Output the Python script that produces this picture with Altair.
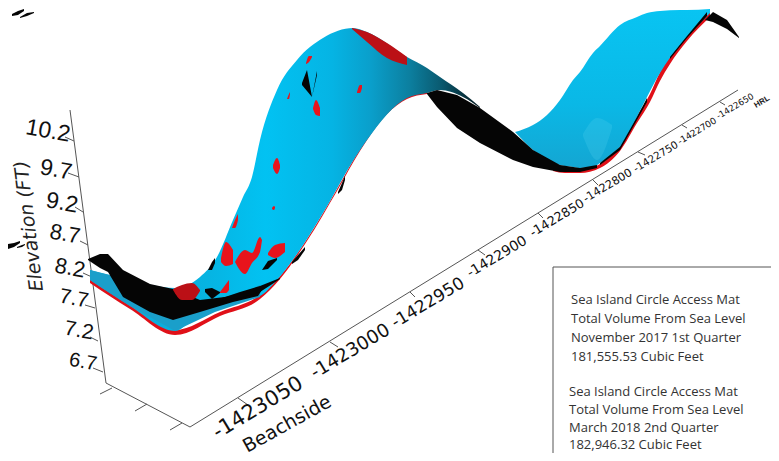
import altair as alt
import pandas as pd

# Each shape: name, xs, upper edge, lower edge (image pixels)
red_edge = [
    ("re1", [90, 130, 175, 220, 260, 280, 307, 337, 360, 387, 407, 427],
            [279, 305, 330, 312, 295, 276, 239, 189, 149, 112, 97, 92],
            [283, 309, 335, 316, 299, 279, 241, 191, 151, 114, 99, 94]),
    ("re2", [553, 565, 580, 600, 620, 637, 650, 660, 670, 687, 710],
            [169, 170, 170, 164, 146, 116, 94, 72, 56, 35, 12],
            [171, 173, 173, 168, 151, 123, 102, 81, 64, 41, 17]),
]
main_x = [90, 130, 175, 200, 217, 233, 243, 252, 260, 277, 297, 323, 353, 367, 407, 427, 440, 463, 480]
main_top = [270, 280, 288, 277, 257, 220, 197, 177, 140, 90, 60, 38, 28, 32, 57, 68, 77, 93, 107]
main_bot = [280, 306, 331, 312, 304, 300, 299, 298, 296, 280, 254, 213, 161, 140, 98, 93, 90, 97, 108]

left_x = [90, 130, 175, 215, 260]
left_top = [270, 280, 315, 305, 285]
left_bot = [280, 306, 331, 312, 297]

right_x = [515, 533, 547, 560, 573, 580, 593, 600, 620, 637, 647, 660, 680, 687, 710]
right_top = [132, 125, 115, 100, 80, 72, 53, 46, 25, 17, 13, 11, 10, 10, 9]
right_bot = [132, 150, 160, 165, 167, 168, 167, 163, 147, 117, 97, 73, 45, 37, 13]
patch = [("p1", [583, 597, 612], [134, 118, 125], [136, 160, 128])]

band_shapes = [
    ("bl_left", [88, 100, 108, 123, 150, 173, 200, 233, 258, 262],
                [259, 254, 254, 270, 284, 289, 300, 296, 288, 288],
                [260, 268, 272, 297, 312, 320, 312, 302, 296, 290]),
    ("bl_band", [427, 437, 457, 480, 513, 533, 560, 580, 597],
                [93, 90, 95, 108, 132, 150, 165, 168, 165],
                [94, 107, 128, 143, 160, 167, 172, 172, 168]),
]
black_shapes = [
    ("bl_tip", [705, 713, 727, 739], [20, 12, 20, 37], [20, 22, 29, 38]),
    ("b1", [302, 307, 317, 312], [83, 70, 71, 97], [85, 91, 75, 97]),
    ("b2", [262, 268, 277], [270, 261, 258], [270, 269, 260]),
    ("b3", [208, 212, 215], [270, 262, 258], [270, 270, 263]),
    ("b4", [205, 212, 220], [289, 288, 292], [292, 299, 293]),
    ("b5", [338, 342, 345], [192, 183, 176], [194, 190, 180]),
    ("b6", [292, 298, 305], [262, 255, 247], [264, 260, 250]),
    ("b7", [222, 240, 260, 280], [298, 292, 286, 278], [300, 298, 292, 279]),
    ("b8", [600, 620, 637, 647], [163, 147, 117, 98], [165, 150, 120, 102]),
    ("b9", [670, 687, 707], [57, 36, 12], [59, 38, 16]),
    ("s1", [12, 18, 24], [14, 11, 9], [16, 15, 11]),
    ("s2", [20, 27, 34], [17, 13, 12], [18, 16, 13]),
    ("s3", [8, 14, 20], [244, 243, 241], [249, 247, 243]),
    ("s4", [17, 22, 25], [247, 245, 244], [248, 247, 245]),
]
red_shapes = [
    ("r2", [306, 309, 312], [63, 56, 56], [64, 62, 57]),
    ("r3", [313, 316, 320], [108, 100, 108], [109, 115, 116]),
    ("r4", [357, 360, 362], [92, 85, 85], [93, 93, 88]),
    ("r5", [287, 289, 290], [99, 94, 92], [99, 99, 94]),
    ("r6", [273, 277, 280], [165, 158, 165], [168, 174, 168]),
    ("r7", [272, 274, 275], [208, 206, 207], [209, 210, 208]),
    ("r8", [232, 235, 238], [228, 220, 214], [228, 228, 220]),
    ("r9", [221, 226, 233], [258, 242, 250], [262, 266, 264]),
    ("r10", [235, 245, 252, 260, 262], [262, 250, 253, 237, 240], [262, 274, 263, 252, 240]),
    ("r11", [268, 275, 285], [253, 245, 243], [255, 258, 252]),
    ("r12", [220, 226, 229], [292, 284, 280], [293, 293, 290]),
]
dark_red = [
    ("d1", [173, 182, 192, 200], [289, 285, 283, 290], [290, 300, 300, 291]),
    ("r1", [352, 367, 387, 407], [28, 32, 43, 57], [29, 42, 58, 65]),
]

# axis lines, as point lists
axis_lines = [
    ("spine", [70, 106], [110, 383]),
    ("floor1", [106, 190], [383, 427]),
    ("floor2", [190, 738], [427, 90]),
    ("yt1", [65, 74], [137, 141]), ("yt2", [68, 79], [173, 177]),
    ("yt3", [75, 83], [207, 212]), ("yt4", [80, 88], [241, 245]),
    ("yt5", [83, 92], [273, 277]), ("yt6", [85, 95], [305, 308]),
    ("yt7", [90, 98], [337, 341]), ("yt8", [93, 103], [368, 372]),
    ("ft1", [100, 112], [394, 388]), ("ft2", [135, 147], [411, 404]),
    ("ft3", [170, 182], [430, 423]),
    ("xt1", [238, 248], [398, 405]), ("xt2", [330, 338], [342, 347]),
    ("xt3", [410, 415], [292, 297]), ("xt4", [478, 485], [250, 255]),
    ("xt5", [538, 543], [213, 218]), ("xt6", [593, 598], [180, 185]),
    ("xt7", [638, 645], [152, 155]), ("xt8", [682, 687], [125, 128]),
    ("xt9", [720, 725], [102, 105]),
    ("box_top", [553, 771], [267, 267]), ("box_left", [553, 553], [267, 453]),
]

y_labels = ["10.2", "9.7", "9.2", "8.7", "8.2", "7.7", "7.2", "6.7"]
y_label_x = [48, 56, 62, 65, 70, 74, 79, 83]
y_label_y = [131, 170, 203, 234, 268, 299, 331, 362]
y_label_size = [23, 23, 23, 22, 22, 21, 21, 20]

x_labels = ["-1423050", "-1423000", "-1422950", "-1422900", "-1422850",
            "-1422800", "-1422750", "-1422700", "-1422650"]
x_label_x = [258, 350, 428, 497, 557, 608, 656, 697, 735]
x_label_y = [408, 351, 303, 257, 218, 186, 157, 131, 106]
x_label_size = [21, 18.5, 17, 14, 12.7, 11.4, 10.4, 9, 8.7]

note_lines = ["Sea Island Circle Access Mat", "Total Volume From Sea Level",
              "November 2017 1st Quarter", "181,555.53 Cubic Feet",
              "Sea Island Circle Access Mat", "Total Volume From Sea Level",
              "March 2018 2nd Quarter", "182,946.32 Cubic Feet"]
note_x = [571, 571, 571, 571, 569, 569, 569, 569]
note_y = [300, 319, 338, 357, 392, 410, 427.5, 445]

X = alt.Scale(domain=[8, 771], range=[0, 763])
Y = alt.Scale(domain=[8, 453], range=[0, 445])
XE = alt.X("x:Q", scale=X, axis=None)
YE = alt.Y("y:Q", scale=Y, axis=None)


def shapes_df(shapes):
    rows = []
    for name, xs, top, bot in shapes:
        for i, (a, b, c) in enumerate(zip(xs, top, bot)):
            rows.append({"s": name, "x": a, "t": b, "b": c, "i": i})
    return pd.DataFrame(rows)


def area(shapes, fill, interp="linear", opacity=1):
    return alt.Chart(shapes_df(shapes)).mark_area(
        color=fill, interpolate=interp, orient="vertical", clip=True, opacity=opacity
    ).encode(
        x=XE,
        y=alt.Y("t:Q", scale=Y, axis=None),
        y2=alt.Y2("b"),
        detail="s:N",
    )


def h_grad(stops):
    return alt.Gradient(
        gradient="linear", x1=0, x2=1, y1=0, y2=0,
        stops=[alt.GradientStop(offset=o, color=c) for o, c in stops],
    )


def v_grad(stops):
    return alt.Gradient(
        gradient="linear", x1=0, x2=0, y1=0, y2=1,
        stops=[alt.GradientStop(offset=o, color=c) for o, c in stops],
    )


main_grad = h_grad([(0, "#12a6d2"), (0.3, "#06b4e2"), (0.45, "#02c2f2"), (0.62, "#05b4e4"),
                    (0.72, "#0a9fcb"), (0.82, "#0c7f9f"), (0.9, "#0a5a70"), (1, "#04181e")])
right_grad = v_grad([(0, "#08c4f2"), (0.6, "#0ab8e6"), (1, "#14a6d2")])

axis_rows = [{"s": n, "x": a, "y": b, "i": i}
             for n, xs, ys in axis_lines for i, (a, b) in enumerate(zip(xs, ys))]
axes = alt.Chart(pd.DataFrame(axis_rows)).mark_line(color="#555555", strokeWidth=1).encode(
    x=XE, y=YE, detail="s:N", order="i:Q",
)

ylab_df = pd.DataFrame({"t": y_labels, "x": y_label_x, "y": y_label_y, "s": y_label_size})
ylabels = alt.Chart(ylab_df).mark_text(font="Liberation Sans", angle=10, color="#111111",
                                       align="center", baseline="middle").encode(
    x=XE, y=YE, text="t:N", size=alt.Size("s:Q", scale=None),
)

xlab_df = pd.DataFrame({"t": x_labels, "x": x_label_x, "y": x_label_y, "s": x_label_size})
xlabels = alt.Chart(xlab_df).mark_text(font="DejaVu Sans", angle=329, color="#111111",
                                       align="center", baseline="middle").encode(
    x=XE, y=YE, text="t:N", size=alt.Size("s:Q", scale=None),
)

elev = alt.Chart(pd.DataFrame({"t": ["Elevation (FT)"], "x": [29], "y": [226]})).mark_text(
    font="DejaVu Sans", fontStyle="italic", fontSize=19, angle=263,
    color="#222222", align="center", baseline="middle",
).encode(x=XE, y=YE, text="t:N")

beach = alt.Chart(pd.DataFrame({"t": ["Beachside"], "x": [287], "y": [424]})).mark_text(
    font="DejaVu Sans", fontSize=19, angle=331, color="#111111",
    align="center", baseline="middle",
).encode(x=XE, y=YE, text="t:N")

hrl = alt.Chart(pd.DataFrame({"t": ["HRL"], "x": [762], "y": [102]})).mark_text(
    font="Liberation Sans", fontSize=8, angle=329, fontWeight="bold",
    color="#222222", align="center", baseline="middle",
).encode(x=XE, y=YE, text="t:N")

note = alt.Chart(pd.DataFrame({"t": note_lines, "x": note_x, "y": note_y})).mark_text(
    font="Open Sans", fontSize=13, color="#333333", align="left", baseline="middle",
).encode(x=XE, y=YE, text="t:N")

chart = alt.layer(
    axes,
    area(red_edge, "#e01018", "monotone"),
    area([("main", main_x, main_top, main_bot)], main_grad, "monotone"),
    area([("left", left_x, left_top, left_bot)], "#1a9fca", "linear"),
    area([("right", right_x, right_top, right_bot)], right_grad, "monotone"),
    area(patch, "#5cd4f2", "monotone", 0.22),
    area(band_shapes, "#050505", "linear"),
    area(black_shapes, "#050505", "linear"),
    area(dark_red, "#bb1016", "monotone"),
    area(red_shapes, "#e8141c", "monotone"),
    ylabels, xlabels, elev, beach, hrl, note,
).properties(width=763, height=445, padding=0, autosize=alt.AutoSizeParams(type="none"),
             background="white").configure_view(stroke=None)

chart.save("out.html", embed_options={"renderer": "svg", "actions": False})
